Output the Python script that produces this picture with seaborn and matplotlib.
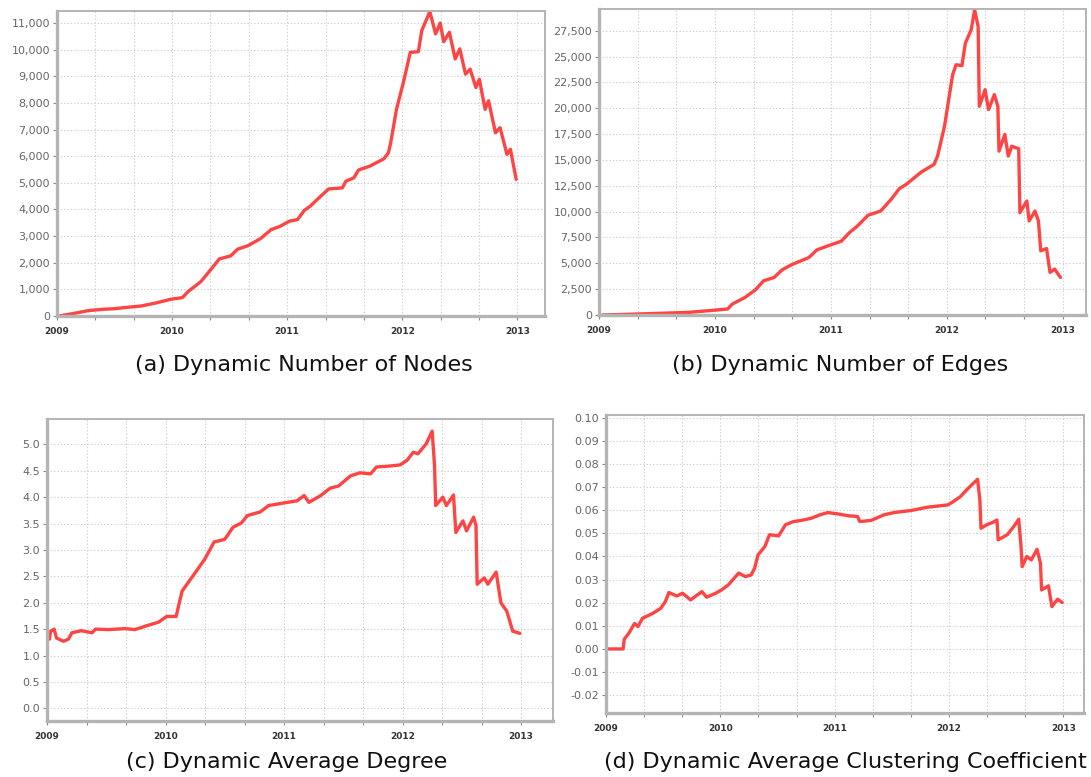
import matplotlib
matplotlib.use("Agg")
from matplotlib import pyplot
from matplotlib.ticker import FuncFormatter, MultipleLocator
import seaborn as sns
import pandas as pd

# ----------- data (decimal years) ---------------------------------
years_nodes = [2009.02, 2009.15, 2009.27, 2009.39, 2009.50, 2009.62, 2009.73, 2009.85, 2009.99,
               2010.09, 2010.14, 2010.25, 2010.34, 2010.41, 2010.51, 2010.57, 2010.66, 2010.77,
               2010.86, 2010.94, 2011.02, 2011.09, 2011.15, 2011.20, 2011.26, 2011.36, 2011.48,
               2011.51, 2011.58, 2011.62, 2011.72, 2011.84, 2011.88, 2011.90, 2011.95, 2012.01,
               2012.07, 2012.14, 2012.17, 2012.24, 2012.29, 2012.33, 2012.36, 2012.41, 2012.46,
               2012.50, 2012.55, 2012.59, 2012.64, 2012.67, 2012.72, 2012.75, 2012.81, 2012.85,
               2012.91, 2012.94, 2012.99]
nodes = [0, 100, 200, 250, 275, 330, 375, 480, 630,
         690, 920, 1290, 1760, 2140, 2260, 2510, 2640, 2910,
         3240, 3370, 3560, 3620, 3970, 4120, 4370, 4770, 4810,
         5060, 5190, 5480, 5630, 5900, 6130, 6510, 7760, 8770,
         9900, 9920, 10720, 11430, 10590, 11000, 10300, 10650, 9650,
         10030, 9080, 9270, 8580, 8890, 7760, 8080, 6880, 7070,
         6070, 6260, 5130]

years_edges = [2009.03, 2009.23, 2009.52, 2009.78, 2009.95, 2010.11, 2010.15, 2010.26, 2010.35,
               2010.42, 2010.51, 2010.58, 2010.66, 2010.81, 2010.88, 2010.99, 2011.09, 2011.16,
               2011.23, 2011.32, 2011.43, 2011.52, 2011.59, 2011.65, 2011.78, 2011.89, 2011.92,
               2011.98, 2012.05, 2012.08, 2012.13, 2012.16, 2012.21, 2012.24, 2012.27, 2012.28,
               2012.33, 2012.36, 2012.41, 2012.44, 2012.45, 2012.50, 2012.53, 2012.56, 2012.62,
               2012.63, 2012.69, 2012.71, 2012.76, 2012.79, 2012.81, 2012.86, 2012.89, 2012.93,
               2012.98]
edges = [0, 60, 160, 260, 420, 580, 1060, 1700, 2440,
         3310, 3630, 4370, 4860, 5560, 6300, 6750, 7140, 7970,
         8620, 9650, 10060, 11190, 12220, 12640, 13830, 14570, 15370,
         18260, 23250, 24210, 24120, 26300, 27590, 29520, 27910, 20190,
         21800, 19870, 21320, 20190, 15850, 17460, 15370, 16330, 16080,
         9900, 11030, 9100, 10060, 9100, 6210, 6430, 4120, 4440,
         3630]

years_degree = [2009.02, 2009.03, 2009.06, 2009.08, 2009.14, 2009.18, 2009.21, 2009.29, 2009.38,
                2009.41, 2009.52, 2009.66, 2009.74, 2009.85, 2009.94, 2010.01, 2010.09, 2010.11,
                2010.14, 2010.20, 2010.27, 2010.33, 2010.41, 2010.50, 2010.57, 2010.64, 2010.69,
                2010.80, 2010.87, 2011.00, 2011.11, 2011.17, 2011.21, 2011.31, 2011.39, 2011.46,
                2011.56, 2011.64, 2011.73, 2011.78, 2011.90, 2011.98, 2012.04, 2012.09, 2012.13,
                2012.20, 2012.25, 2012.27, 2012.28, 2012.34, 2012.37, 2012.43, 2012.45, 2012.51,
                2012.54, 2012.60, 2012.62, 2012.63, 2012.69, 2012.72, 2012.79, 2012.83, 2012.88,
                2012.93, 2012.99]
degree = [1.31, 1.46, 1.50, 1.33, 1.27, 1.31, 1.43, 1.47, 1.43,
          1.50, 1.49, 1.51, 1.49, 1.57, 1.63, 1.74, 1.74, 1.94,
          2.22, 2.41, 2.63, 2.82, 3.15, 3.20, 3.43, 3.51, 3.65,
          3.72, 3.84, 3.89, 3.93, 4.03, 3.90, 4.03, 4.17, 4.21,
          4.40, 4.46, 4.44, 4.57, 4.59, 4.61, 4.70, 4.85, 4.82,
          5.01, 5.25, 4.60, 3.84, 4.00, 3.84, 4.04, 3.33, 3.55,
          3.36, 3.62, 3.46, 2.35, 2.47, 2.35, 2.58, 2.00, 1.84,
          1.46, 1.42]

years_clust = [2009.02, 2009.15, 2009.16, 2009.20, 2009.25, 2009.28, 2009.32, 2009.41, 2009.48,
               2009.52, 2009.55, 2009.62, 2009.67, 2009.74, 2009.80, 2009.84, 2009.88, 2009.96,
               2010.01, 2010.07, 2010.16, 2010.22, 2010.27, 2010.30, 2010.33, 2010.39, 2010.43,
               2010.51, 2010.57, 2010.64, 2010.71, 2010.80, 2010.87, 2010.94, 2011.03, 2011.12,
               2011.20, 2011.22, 2011.32, 2011.43, 2011.52, 2011.67, 2011.81, 2011.99, 2012.04,
               2012.10, 2012.16, 2012.25, 2012.27, 2012.28, 2012.33, 2012.38, 2012.42, 2012.43,
               2012.51, 2012.57, 2012.61, 2012.63, 2012.64, 2012.68, 2012.72, 2012.77, 2012.80,
               2012.81, 2012.87, 2012.90, 2012.95, 2012.99]
clust = [0.0, 0.0, 0.0042, 0.0068, 0.0110, 0.0097, 0.0133, 0.0154, 0.0176,
         0.0205, 0.0244, 0.0229, 0.0241, 0.0212, 0.0234, 0.0248, 0.0224, 0.0241,
         0.0255, 0.0277, 0.0328, 0.0313, 0.0320, 0.0349, 0.0407, 0.0443, 0.0494,
         0.0489, 0.0537, 0.0551, 0.0556, 0.0566, 0.0580, 0.0590, 0.0584, 0.0576,
         0.0573, 0.0551, 0.0556, 0.0580, 0.0590, 0.0599, 0.0613, 0.0623, 0.0638,
         0.0659, 0.0691, 0.0734, 0.0645, 0.0522, 0.0537, 0.0547, 0.0558, 0.0472,
         0.0494, 0.0532, 0.0561, 0.0443, 0.0356, 0.0400, 0.0385, 0.0431, 0.0371,
         0.0255, 0.0273, 0.0183, 0.0215, 0.0201]

year_ticks = [2009, 2010, 2011, 2012, 2013]

RED = "#ff4444"


def draw_series(ax, xs, ys, xlim, ylim, ystep, fmt):
    df = pd.DataFrame({"year": xs, "value": ys})
    sns.lineplot(data=df, x="year", y="value", ax=ax, color=RED, linewidth=2.4,
                 estimator=None, sort=False)
    ax.set_xlim(*xlim)
    ax.set_ylim(*ylim)
    ax.set_xlabel("")
    ax.set_ylabel("")
    ax.set_xticks(year_ticks)
    ax.set_xticklabels([str(y) for y in year_ticks])
    ax.xaxis.set_minor_locator(MultipleLocator(1 / 3))
    ax.yaxis.set_major_locator(MultipleLocator(ystep))
    ax.yaxis.set_major_formatter(FuncFormatter(fmt))
    ax.grid(True, which="both", axis="x", linestyle=(0, (1.2, 1.8)), color="#cfcfcf", linewidth=0.8)
    ax.grid(True, which="major", axis="y", linestyle=(0, (1.2, 1.8)), color="#cfcfcf", linewidth=0.8)
    for side in ("top", "right", "bottom", "left"):
        ax.spines[side].set_visible(True)
        ax.spines[side].set_color("#b4b4b4")
        ax.spines[side].set_linewidth(1.4)
    ax.spines["left"].set_linewidth(2.4)
    ax.spines["bottom"].set_linewidth(2.4)
    ax.tick_params(axis="y", which="major", length=3, width=0.8, color="#888888",
                   labelsize=8, labelcolor="#666666", pad=2, left=True)
    ax.tick_params(axis="x", which="both", length=3, width=0.8, color="#888888",
                   labelsize=6.5, labelcolor="#333333", pad=5, bottom=True)
    for label in ax.get_xticklabels():
        label.set_fontweight("bold")
    ax.set_axisbelow(True)


if __name__ == "__main__":
    sns.set_theme(style="white")
    pyplot.rcParams["font.family"] = ["DejaVu Sans"]

    fig = pyplot.figure(figsize=(10.91, 7.77), dpi=100)
    ax_a = fig.add_axes([0.0522, 0.5933, 0.4473, 0.3925])
    ax_b = fig.add_axes([0.5490, 0.5946, 0.4464, 0.3938])
    ax_c = fig.add_axes([0.0431, 0.0721, 0.4638, 0.3887])
    ax_d = fig.add_axes([0.5554, 0.0824, 0.4381, 0.3835])

    draw_series(ax_a, years_nodes, nodes, (2009.01, 2013.24), (0, 11450), 1000,
                lambda v, p: f"{v:,.0f}")
    draw_series(ax_b, years_edges, edges, (2009.03, 2013.20), (0, 29600), 2500,
                lambda v, p: f"{v:,.0f}")
    draw_series(ax_c, years_degree, degree, (2009.017, 2013.27), (-0.24, 5.48), 0.5,
                lambda v, p: f"{v:.1f}")
    draw_series(ax_d, years_clust, clust, (2009.02, 2013.18), (-0.0277, 0.1012), 0.01,
                lambda v, p: f"{v:.2f}")

    cap = dict(ha="center", va="center", fontsize=16, color="#111111")
    fig.text(304 / 1091, 1 - 365 / 777, "(a) Dynamic Number of Nodes", **cap)
    fig.text(840 / 1091, 1 - 365 / 777, "(b) Dynamic Number of Edges", **cap)
    fig.text(287 / 1091, 1 - 762 / 777, "(c) Dynamic Average Degree", **cap)
    fig.text(845 / 1091, 1 - 762 / 777, "(d) Dynamic Average Clustering Coefficient", **cap)

    fig.savefig("out.png", dpi=100)
